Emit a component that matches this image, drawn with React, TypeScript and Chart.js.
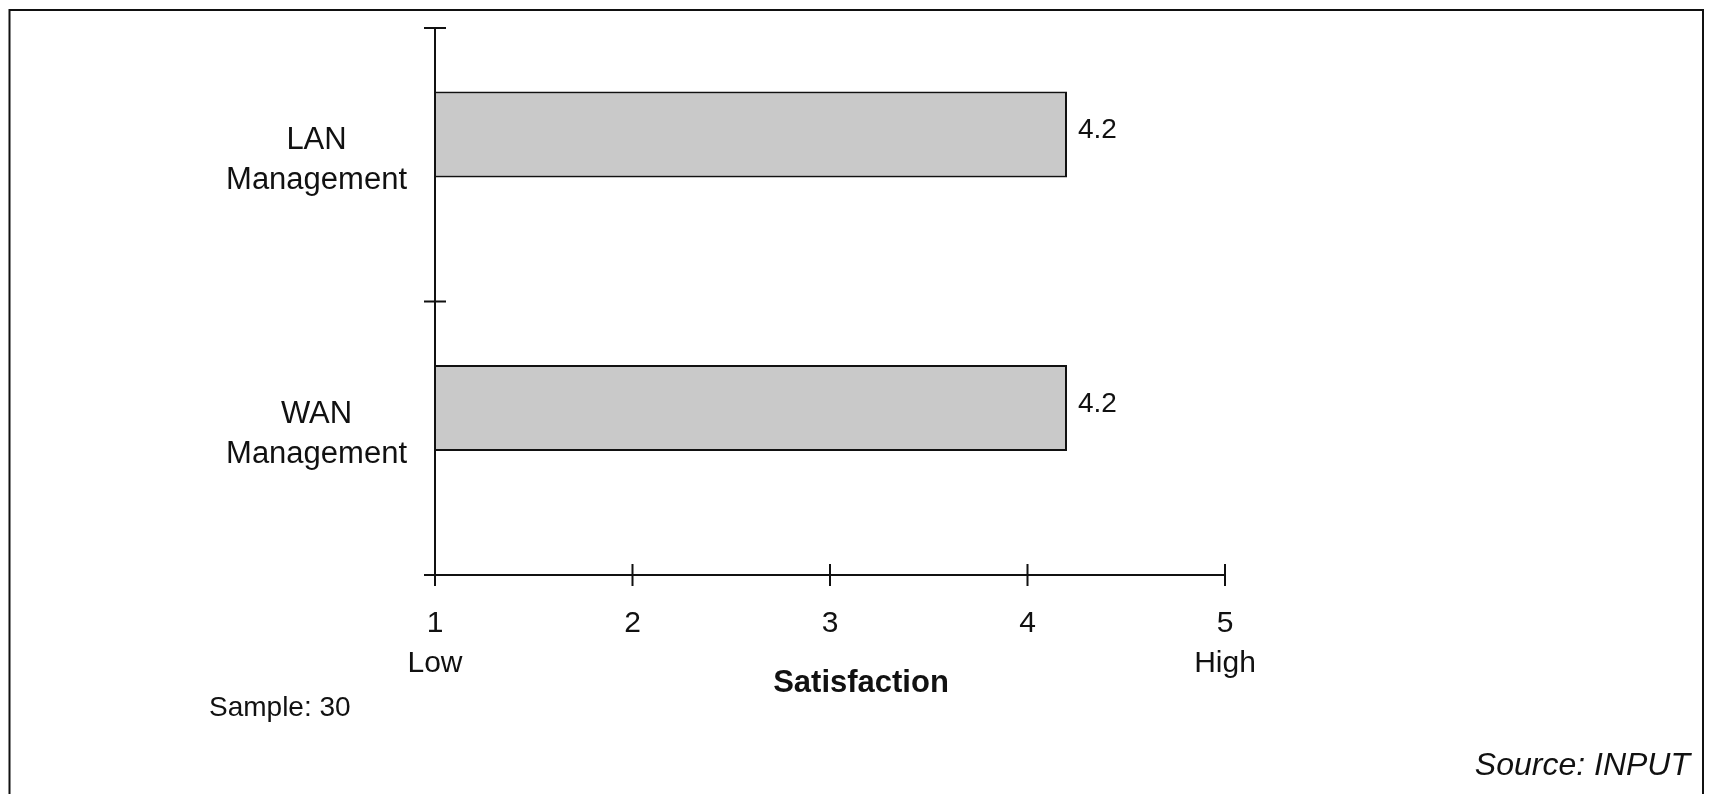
import React, { useEffect, useRef } from 'react';
import { Chart, registerables } from 'chart.js';

Chart.register(...registerables);

// ---- data ----
const categories: string[][] = [
  ['LAN', 'Management'],
  ['WAN', 'Management'],
];
const satisfaction: number[] = [4.2, 4.2];
const xTickValues: number[] = [1, 2, 3, 4, 5];
const xTickLabels: string[] = ['1', '2', '3', '4', '5'];
const xTickSubLabels: string[] = ['Low', '', '', '', 'High'];
const axisTitle = 'Satisfaction';
const sampleNote = 'Sample: 30';
const sourceNote = 'Source: INPUT';

const FONT = "'Liberation Sans', Arial, Helvetica, sans-serif";
const INK = '#111111';

const decorPlugin = {
  id: 'decor',
  afterDatasetsDraw(chart: any) {
    const { ctx, chartArea, scales } = chart;
    const xs = scales.x;
    const ys = scales.y;
    const half = 11;
    ctx.save();
    ctx.strokeStyle = INK;
    ctx.lineWidth = 2;
    ctx.lineCap = 'butt';

    // outer frame (open at the bottom)
    ctx.beginPath();
    ctx.moveTo(9.5, chart.height + 10);
    ctx.lineTo(9.5, 10);
    ctx.lineTo(1703, 10);
    ctx.lineTo(1703, chart.height + 10);
    ctx.stroke();

    // axis lines
    ctx.beginPath();
    ctx.moveTo(chartArea.left, chartArea.top);
    ctx.lineTo(chartArea.left, chartArea.bottom + 1);
    ctx.moveTo(chartArea.left - 1, chartArea.bottom);
    ctx.lineTo(chartArea.right, chartArea.bottom);
    ctx.stroke();

    // category boundary ticks (crossing the y axis)
    const n = ys.ticks.length;
    const bounds: number[] = [chartArea.top];
    for (let i = 0; i < n - 1; i++) {
      bounds.push((ys.getPixelForTick(i) + ys.getPixelForTick(i + 1)) / 2);
    }
    bounds.push(chartArea.bottom);
    ctx.beginPath();
    bounds.forEach((py) => {
      ctx.moveTo(chartArea.left - half, py);
      ctx.lineTo(chartArea.left + half, py);
    });
    // value ticks (crossing the x axis)
    xs.ticks.forEach((t: any) => {
      const px = xs.getPixelForValue(t.value);
      ctx.moveTo(px, chartArea.bottom - half);
      ctx.lineTo(px, chartArea.bottom + half);
    });
    ctx.stroke();

    // value labels at bar ends
    const meta = chart.getDatasetMeta(0);
    ctx.fillStyle = INK;
    ctx.font = `28px ${FONT}`;
    ctx.textAlign = 'left';
    ctx.textBaseline = 'middle';
    meta.data.forEach((bar: any, i: number) => {
      const v = satisfaction[i];
      if (v == null) return;
      ctx.fillText(v.toFixed(1), bar.x + 11, bar.y - 4);
    });
    ctx.restore();
  },
  afterDraw(chart: any) {
    const { ctx, chartArea } = chart;
    ctx.save();
    ctx.fillStyle = INK;
    // axis title
    ctx.font = `bold 31px ${FONT}`;
    ctx.textAlign = 'center';
    ctx.textBaseline = 'middle';
    ctx.fillText(axisTitle, (chartArea.left + chartArea.right) / 2 + 31, chartArea.bottom + 108);
    // sample note
    ctx.font = `28px ${FONT}`;
    ctx.textAlign = 'left';
    ctx.textBaseline = 'alphabetic';
    ctx.fillText(sampleNote, 209, chartArea.bottom + 141);
    // source note
    ctx.font = `italic 32px ${FONT}`;
    ctx.textAlign = 'right';
    ctx.fillText(sourceNote, 1690, chartArea.bottom + 200);
    ctx.restore();
  },
};

export default function App() {
  const ref = useRef<HTMLCanvasElement | null>(null);

  useEffect(() => {
    if (!ref.current) return;
    const chart = new Chart(ref.current, {
      type: 'bar',
      data: {
        labels: categories,
        datasets: [
          {
            label: 'Satisfaction',
            data: satisfaction,
            backgroundColor: '#c9c9c9',
            borderColor: INK,
            borderWidth: 2,
            categoryPercentage: 0.4424,
            barPercentage: 1.421,
          },
          {
            label: '',
            data: categories.map(() => null),
            backgroundColor: 'rgba(0,0,0,0)',
            borderWidth: 0,
            categoryPercentage: 0.4424,
            barPercentage: 1.421,
          },
        ],
      },
      options: {
        indexAxis: 'y',
        animation: false,
        responsive: true,
        maintainAspectRatio: false,
        layout: { padding: { top: 28, left: 0, right: 484, bottom: 0 } },
        plugins: {
          legend: { display: false },
          tooltip: { enabled: false },
          title: { display: false },
        },
        scales: {
          x: {
            type: 'linear',
            min: 1,
            max: 5,
            grid: { display: false, drawTicks: false },
            border: { display: false },
            ticks: {
              stepSize: 1,
              padding: 29,
              color: INK,
              font: { family: FONT, size: 30, lineHeight: 1.32 },
              callback: (value: any) => {
                const i = xTickValues.indexOf(Number(value));
                if (i < 0) return '';
                return xTickSubLabels[i] ? [xTickLabels[i], xTickSubLabels[i]] : xTickLabels[i];
              },
            },
            afterFit: (s: any) => {
              s.height = 219;
              s.paddingLeft = 0;
              s.paddingRight = 0;
            },
          },
          y: {
            type: 'category',
            offset: true,
            grid: { display: false, drawTicks: false, offset: true },
            border: { display: false },
            ticks: {
              color: INK,
              crossAlign: 'center',
              padding: 28,
              labelOffset: -4,
              font: { family: FONT, size: 31, lineHeight: 1.29 },
            },
            afterFit: (s: any) => {
              s.width = 435;
              s.paddingTop = 0;
              s.paddingBottom = 0;
            },
          },
        },
      },
      plugins: [decorPlugin],
    } as any);
    return () => chart.destroy();
  }, []);

  return (
    <div style={{ position: 'fixed', left: 0, top: 0, width: 1709, height: 794, background: '#ffffff' }}>
      <canvas ref={ref} />
    </div>
  );
}
